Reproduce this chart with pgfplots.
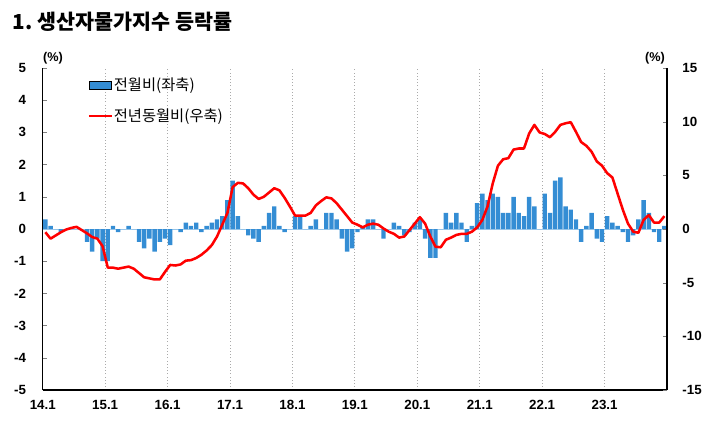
\documentclass[border=0pt]{standalone}
\usepackage{fontspec}
\setmainfont{Liberation Sans}
\newfontfamily\kr{Noto Sans CJK KR}
\usepackage{pgfplots}
\pgfplotsset{compat=1.18}
\usepackage{pgfplotstable}
\definecolor{barblue}{RGB}{52,141,212}
\definecolor{gridgray}{RGB}{170,170,170}

\pgfplotstableread{
i v
0 0.3
1 0.1
2 0.0
3 -0.1
4 0.0
5 0.0
6 0.0
7 0.0
8 -0.4
9 -0.7
10 -0.3
11 -1.0
12 -1.0
13 0.1
14 -0.1
15 0.0
16 0.1
17 0.0
18 -0.4
19 -0.6
20 -0.3
21 -0.7
22 -0.4
23 -0.3
24 -0.5
25 0.0
26 -0.1
27 0.2
28 0.1
29 0.2
30 -0.1
31 0.1
32 0.2
33 0.3
34 0.4
35 0.9
36 1.5
37 0.4
38 0.0
39 -0.2
40 -0.3
41 -0.4
42 0.1
43 0.5
44 0.7
45 0.1
46 -0.1
47 0.0
48 0.4
49 0.4
50 0.0
51 0.1
52 0.3
53 0.0
54 0.5
55 0.5
56 0.3
57 -0.3
58 -0.7
59 -0.6
60 -0.1
61 0.1
62 0.3
63 0.3
64 0.0
65 -0.3
66 0.0
67 0.2
68 0.1
69 -0.2
70 -0.1
71 0.2
72 0.3
73 -0.3
74 -0.9
75 -0.9
76 0.0
77 0.5
78 0.2
79 0.5
80 0.2
81 -0.4
82 0.1
83 0.8
84 1.1
85 0.9
86 1.1
87 1.0
88 0.5
89 0.5
90 1.0
91 0.5
92 0.4
93 1.0
94 0.7
95 0.0
96 1.1
97 0.5
98 1.5
99 1.6
100 0.7
101 0.6
102 0.3
103 -0.4
104 0.1
105 0.5
106 -0.3
107 -0.4
108 0.4
109 0.2
110 0.1
111 -0.1
112 -0.4
113 -0.2
114 0.3
115 0.9
116 0.5
117 -0.1
118 -0.4
119 0.1
}\mom

\pgfplotstableread{
i v
0 -0.3
1 -0.9
2 -0.6
3 -0.3
4 -0.05
5 0.1
6 0.2
7 -0.1
8 -0.4
9 -0.75
10 -0.9
11 -1.6
12 -3.6
13 -3.6
14 -3.7
15 -3.6
16 -3.5
17 -3.7
18 -4.1
19 -4.5
20 -4.6
21 -4.7
22 -4.7
23 -4.0
24 -3.35
25 -3.4
26 -3.3
27 -2.95
28 -2.9
29 -2.7
30 -2.4
31 -2.0
32 -1.5
33 -0.7
34 0.4
35 1.5
36 3.9
37 4.3
38 4.25
39 3.8
40 3.2
41 2.8
42 3.0
43 3.4
44 3.8
45 3.6
46 2.9
47 2.1
48 1.25
49 1.25
50 1.25
51 1.5
52 2.2
53 2.6
54 2.95
55 2.85
56 2.4
57 1.8
58 1.2
59 0.6
60 0.4
61 0.15
62 0.4
63 0.5
64 0.4
65 0.05
66 -0.25
67 -0.45
68 -0.8
69 -0.7
70 -0.1
71 0.5
72 1.1
73 0.5
74 -0.7
75 -1.65
76 -1.7
77 -1.0
78 -0.8
79 -0.55
80 -0.45
81 -0.45
82 -0.25
83 0.15
84 0.85
85 2.1
86 4.25
87 5.9
88 6.5
89 6.6
90 7.4
91 7.5
92 7.5
93 8.9
94 9.7
95 9.0
96 8.85
97 8.55
98 9.05
99 9.7
100 9.85
101 9.95
102 9.05
103 8.1
104 7.75
105 7.2
106 6.3
107 5.9
108 5.2
109 4.8
110 3.3
111 1.8
112 0.5
113 -0.25
114 -0.35
115 0.85
116 1.3
117 0.6
118 0.6
119 1.2
}\yoy

\begin{document}
\begin{tikzpicture}[x=0.75pt,y=0.75pt]
\useasboundingbox (0,0) rectangle (710,426);
\pgfplotsset{
  common/.style={
    at={(32.0625pt,27pt)}, anchor=south west,
    scale only axis, width=468.2pt, height=241.5pt,
    xmin=-0.5, xmax=119.5,
    tick align=inside,
    major tick length=3pt,
    /pgf/number format/assume math mode=true,
    tick label style={font=\bfseries\fontsize{10}{12}\selectfont},
    axis line style={black, line width=1pt},
  }
}
\begin{axis}[common,
  ymin=-5, ymax=5, ytick={-5,-4,...,5},
  axis x line*=bottom, axis y line*=left,
  xtick={-0.5,11.5,...,107.5},
  xticklabels={14.1,15.1,16.1,17.1,18.1,19.1,20.1,21.1,22.1,23.1},
  x tick style={draw=none},
  xmajorgrids, major grid style={gridgray, dotted, line width=0.6pt},
  xticklabel style={yshift=-4pt},
  yticklabel style={xshift=-9pt},
  extra y ticks={0}, extra y tick labels={},
  extra y tick style={ymajorgrids=true, major grid style={barblue!45, solid, line width=0.6pt}, major tick length=0pt},
]
\addplot[ybar, bar width=0.85, bar shift=0pt, fill=barblue, draw=none] table[x=i,y=v] {\mom};
\end{axis}
\begin{axis}[common,
  ymin=-15, ymax=15, ytick={-15,-10,...,15},
  axis y line*=right, axis x line=none,
  yticklabel style={xshift=8pt},
  legend style={at={(0.072,0.975)}, anchor=north west, draw=none, fill=none,
    font=\kr\fontsize{11.5}{14}\selectfont, row sep=10pt, inner sep=0pt,
    nodes={inner sep=1pt}},
  legend cell align=left,
]
\addlegendimage{area legend, fill=barblue, draw=none}
\addlegendentry{전월비(좌축)}
\addlegendimage{red, line width=1.3pt}
\addlegendentry{전년동월비(우축)}
\addplot[red, line width=1.9pt, line join=round, forget plot] table[x=i,y=v] {\yoy};
\end{axis}
\node[anchor=west, font=\kr\bfseries\fontsize{15.5}{18}\selectfont] at (8,404) {1.\ 생산자물가지수 등락률};
\node[font=\bfseries\fontsize{9.5}{11}\selectfont] at (53,368) {(\%)};
\node[font=\bfseries\fontsize{9.5}{11}\selectfont] at (655,368) {(\%)};
\end{tikzpicture}
\end{document}
